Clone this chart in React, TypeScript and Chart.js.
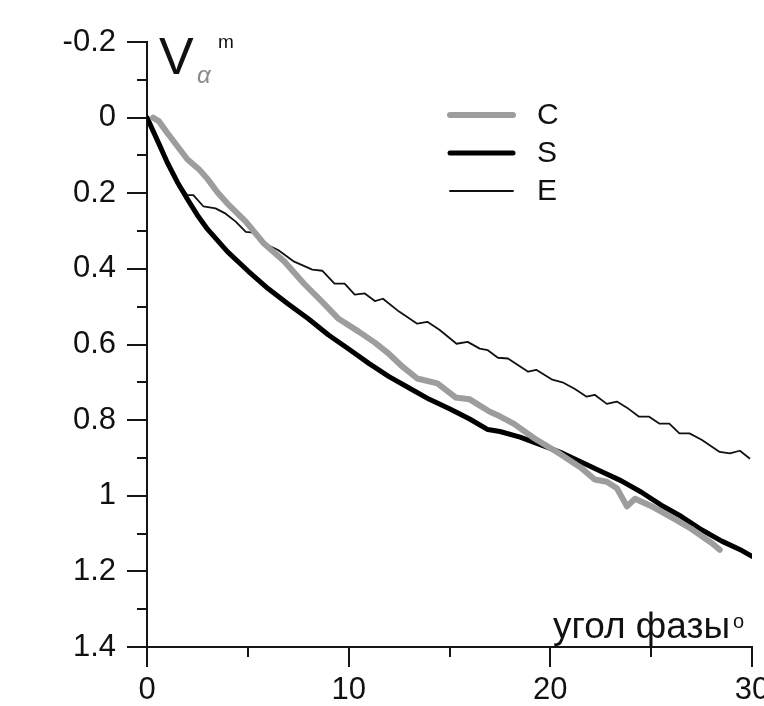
import React, { useEffect, useRef } from "react";
import { Chart, registerables } from "chart.js";

Chart.register(...registerables);

// ---- data (phase angle in degrees, value of V_alpha^m) ----
const seriesLabels = ["C", "S", "E"];

const cAngle = [0.3, 0.6, 1.0, 1.5, 2.0, 2.6, 3.0, 3.5, 4.0, 4.9, 5.8, 6.8, 7.8, 8.7, 9.5, 10.5, 11.3, 12.0, 12.7, 13.4, 14.4, 15.3, 16.0, 17.0, 17.5, 18.2, 19.2, 20.5, 21.5, 22.2, 22.8, 23.3, 23.8, 24.2, 25.1, 26.1, 27.0, 28.0, 28.4];
const cValue = [0, 0.01, 0.04, 0.075, 0.11, 0.138, 0.162, 0.198, 0.228, 0.275, 0.333, 0.38, 0.44, 0.488, 0.532, 0.566, 0.595, 0.625, 0.66, 0.69, 0.703, 0.74, 0.745, 0.778, 0.79, 0.81, 0.848, 0.89, 0.925, 0.957, 0.963, 0.98, 1.028, 1.008, 1.03, 1.06, 1.088, 1.125, 1.143];

const sAngle = [0, 0.3, 0.6, 1.0, 1.5, 2.0, 2.5, 3.0, 4.0, 5.0, 6.0, 7.0, 8.0, 9.0, 10.0, 11.0, 12.0, 13.0, 14.0, 15.0, 16.0, 16.9, 17.5, 18.5, 19.5, 20.5, 21.5, 22.5, 23.5, 24.5, 25.5, 26.5, 27.5, 28.5, 29.5, 30.0];
const sValue = [0, 0.035, 0.07, 0.118, 0.17, 0.215, 0.258, 0.295, 0.355, 0.405, 0.452, 0.493, 0.532, 0.575, 0.612, 0.65, 0.685, 0.715, 0.745, 0.77, 0.797, 0.825, 0.83, 0.845, 0.865, 0.885, 0.91, 0.935, 0.96, 0.99, 1.025, 1.055, 1.09, 1.12, 1.145, 1.16];

const eAngle = [0, 0.5, 1.0, 1.5, 2.0, 2.3, 2.8, 3.4, 3.9, 4.4, 4.9, 5.4, 5.9, 6.5, 7.3, 8.2, 8.7, 9.3, 9.8, 10.3, 10.8, 11.3, 11.7, 12.5, 13.4, 13.9, 14.5, 15.35, 15.9, 16.5, 16.9, 17.4, 17.9, 18.9, 19.3, 20.1, 20.6, 21.2, 21.8, 22.2, 22.8, 23.3, 23.8, 24.4, 24.9, 25.4, 25.9, 26.4, 26.9, 27.5, 28.4, 28.9, 29.4, 29.9];
const eValue = [0, 0.058, 0.118, 0.17, 0.205, 0.205, 0.235, 0.24, 0.254, 0.275, 0.302, 0.305, 0.335, 0.35, 0.381, 0.402, 0.405, 0.439, 0.439, 0.468, 0.465, 0.485, 0.479, 0.513, 0.545, 0.54, 0.561, 0.598, 0.593, 0.611, 0.615, 0.635, 0.637, 0.672, 0.667, 0.693, 0.7, 0.717, 0.738, 0.733, 0.757, 0.751, 0.767, 0.791, 0.791, 0.809, 0.809, 0.835, 0.835, 0.852, 0.884, 0.888, 0.881, 0.902];

const yMajorTicks = [-0.2, 0, 0.2, 0.4, 0.6, 0.8, 1, 1.2, 1.4];
const yMinorTicks = [-0.1, 0.1, 0.3, 0.5, 0.7, 0.9, 1.1, 1.3];
const xMajorTicks = [0, 10, 20, 30];
const xMinorTicks = [5, 15, 25];

const xTitle = "угол фазы";
const FONT = "'Liberation Sans', Arial, Helvetica, sans-serif";

const toPoints = (xs: number[], ys: number[]) => xs.map((x, i) => ({ x, y: ys[i] }));

const decorPlugin = {
  id: "decor",
  afterDraw(chart: any) {
    const ctx = chart.ctx as CanvasRenderingContext2D;
    const area = chart.chartArea;
    const xs = chart.scales.x;
    const ys = chart.scales.y;
    ctx.save();
    // minor ticks
    ctx.strokeStyle = "#151515";
    ctx.lineWidth = 2;
    yMinorTicks.forEach((v) => {
      const py = Math.round(ys.getPixelForValue(v));
      ctx.beginPath();
      ctx.moveTo(area.left - 10, py);
      ctx.lineTo(area.left, py);
      ctx.stroke();
    });
    xMinorTicks.forEach((v) => {
      const px = Math.round(xs.getPixelForValue(v));
      ctx.beginPath();
      ctx.moveTo(px, area.bottom);
      ctx.lineTo(px, area.bottom + 10);
      ctx.stroke();
    });

    // legend
    const ds = chart.data.datasets;
    ds.forEach((d: any, i: number) => {
      const y = 115 + i * 38;
      ctx.strokeStyle = d.borderColor;
      ctx.lineWidth = d.borderWidth;
      ctx.lineCap = "round";
      ctx.beginPath();
      ctx.moveTo(450, y);
      ctx.lineTo(513, y);
      ctx.stroke();
      ctx.fillStyle = "#111";
      ctx.font = `30px ${FONT}`;
      ctx.textAlign = "left";
      ctx.textBaseline = "middle";
      ctx.fillText(d.label, 537, y + 1);
    });

    // y-axis title V_alpha^m
    ctx.textBaseline = "alphabetic";
    ctx.fillStyle = "#111";
    ctx.font = `52px ${FONT}`;
    ctx.fillText("V", 159, 74);
    ctx.fillStyle = "#8a8a8a";
    ctx.font = `italic 24px ${FONT}`;
    ctx.fillText("α", 197, 83);
    ctx.fillStyle = "#111";
    ctx.font = `19px ${FONT}`;
    ctx.fillText("m", 218, 48);

    // x-axis title
    ctx.font = `37px ${FONT}`;
    ctx.fillText(xTitle, 553, 638);
    const w = ctx.measureText(xTitle).width;
    ctx.font = `20px ${FONT}`;
    ctx.fillText("o", 553 + w + 3, 628);
    ctx.restore();
  },
};

export default function App() {
  const ref = useRef<HTMLCanvasElement | null>(null);
  useEffect(() => {
    if (!ref.current) return;
    const chart = new Chart(ref.current, {
      type: "line",
      data: {
        datasets: [
          {
            label: seriesLabels[0],
            data: toPoints(cAngle, cValue),
            borderColor: "#9d9d9d",
            borderWidth: 6,
            pointRadius: 0,
            tension: 0,
            borderJoinStyle: "round",
            borderCapStyle: "round",
          },
          {
            label: seriesLabels[1],
            data: toPoints(sAngle, sValue),
            borderColor: "#000000",
            borderWidth: 5,
            pointRadius: 0,
            tension: 0,
            borderJoinStyle: "round",
            borderCapStyle: "round",
          },
          {
            label: seriesLabels[2],
            data: toPoints(eAngle, eValue),
            borderColor: "#111111",
            borderWidth: 1.8,
            pointRadius: 0,
            tension: 0,
            borderJoinStyle: "round",
          },
        ],
      },
      options: {
        animation: false,
        responsive: false,
        maintainAspectRatio: false,
        devicePixelRatio: 1,
        layout: { padding: { top: 42, right: 48, left: 0, bottom: 0 } },
        plugins: { legend: { display: false }, tooltip: { enabled: false } },
        scales: {
          x: {
            type: "linear",
            min: 0,
            max: 30,
            afterBuildTicks: (s: any) => {
              s.ticks = xMajorTicks.map((v) => ({ value: v }));
            },
            afterFit: (s: any) => {
              s.height = 59;
            },
            ticks: {
              color: "#111",
              font: { family: FONT, size: 31 },
              padding: 5,
              maxRotation: 0,
              autoSkip: false,
              callback: (v: any) => String(v),
            },
            grid: { display: true, drawOnChartArea: false, drawTicks: true, tickLength: 20, color: "#151515", lineWidth: 2 },
            border: { display: true, color: "#151515", width: 2 },
          },
          y: {
            type: "linear",
            min: -0.2,
            max: 1.4,
            reverse: true,
            afterBuildTicks: (s: any) => {
              s.ticks = yMajorTicks.map((v) => ({ value: v }));
            },
            afterFit: (s: any) => {
              s.width = 147;
            },
            ticks: {
              color: "#111",
              font: { family: FONT, size: 31 },
              padding: 11,
              autoSkip: false,
              callback: (v: any) => String(Number(Number(v).toFixed(1))),
            },
            grid: { display: true, drawOnChartArea: false, drawTicks: true, tickLength: 20, color: "#151515", lineWidth: 2 },
            border: { display: true, color: "#151515", width: 2 },
          },
        },
      },
      plugins: [decorPlugin],
    });
    return () => chart.destroy();
  }, []);

  return (
    <div style={{ position: "fixed", left: 0, top: 0, width: 764, height: 706, overflow: "hidden", background: "#fff" }}>
      <canvas ref={ref} width={800} height={706} style={{ display: "block", width: 800, height: 706 }} />
    </div>
  );
}
